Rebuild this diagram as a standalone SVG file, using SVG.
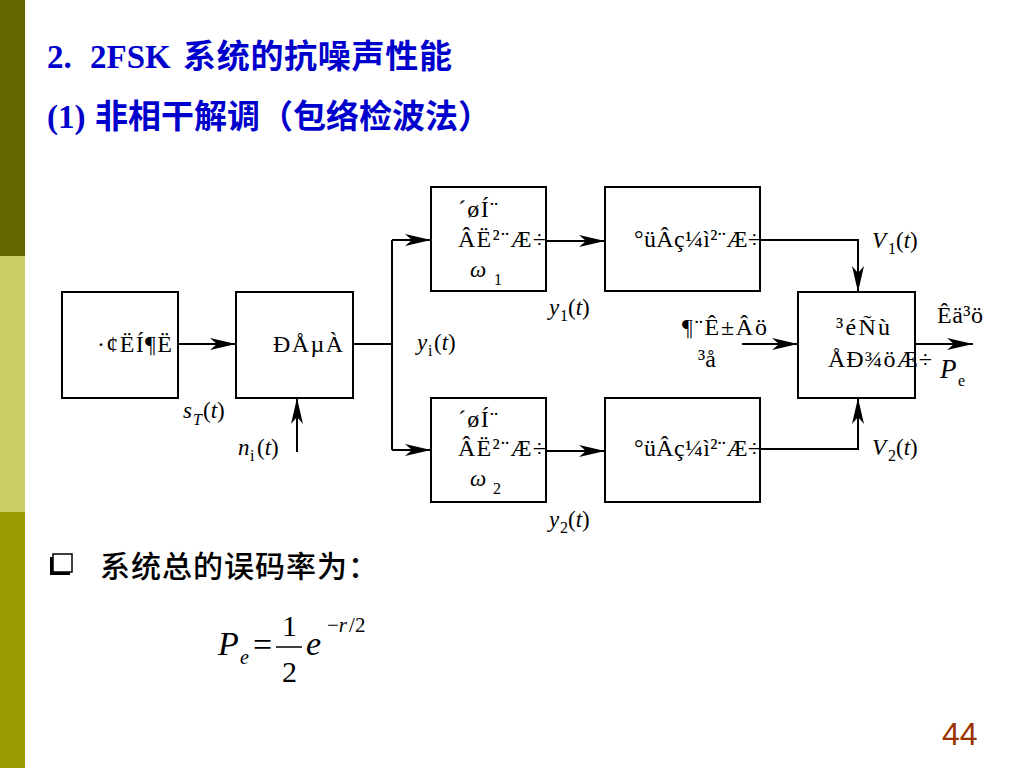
<svg xmlns="http://www.w3.org/2000/svg" width="1024" height="768" viewBox="0 0 1024 768">
<style>
.box{fill:#fff;stroke:#000;stroke-width:2}
.ln{fill:none;stroke:#000;stroke-width:2}
.arr{marker-end:url(#ah)}
.t{font-family:"Liberation Serif","Times New Roman",serif;font-size:24px;fill:#000}
.m{font-family:"Liberation Serif","Times New Roman",serif;font-size:23px;fill:#000}
.i{font-style:italic}
.s{font-size:16px;font-style:normal}
.ttl{font-family:"Liberation Serif","Noto Sans CJK SC",serif;font-size:33px;fill:#0000CC;font-weight:bold}
.cjk{font-family:"Noto Sans CJK SC","Noto Sans",sans-serif}
</style>
<defs>
<marker id="ah" markerUnits="userSpaceOnUse" markerWidth="28" markerHeight="13" refX="26" refY="6.5" orient="auto">
<path d="M0,0.5 L26,6.5 L0,12.5 L7,6.5 Z" fill="#000"/>
</marker>
</defs>
<rect width="1024" height="768" fill="#fff"/>
<g id="sidebar">
<rect x="0" y="0" width="25" height="256" fill="#666600"/>
<rect x="0" y="256" width="25" height="256" fill="#CCCC66"/>
<rect x="0" y="512" width="25" height="256" fill="#999900"/>
</g>
<g id="title">
<text class="ttl" y="68"><tspan x="47">2.</tspan><tspan x="90">2FSK</tspan><tspan x="183" class="cjk" style="letter-spacing:0.7px">系统的抗噪声性能</tspan></text>
<text class="ttl" y="128"><tspan x="47">(1)</tspan><tspan x="95" class="cjk">非相干解调（包络检波法）</tspan></text>
</g>
<g id="connectors">
<path class="ln arr" d="M178,344 H236"/>
<path class="ln" d="M353,344 H392"/>
<path class="ln" d="M392,240 V450"/>
<path class="ln arr" d="M392,240 H431"/>
<path class="ln arr" d="M392,450 H431"/>
<path class="ln arr" d="M546,241 H605"/>
<path class="ln arr" d="M546,451 H605"/>
<path class="ln arr" d="M760,240 H858 V292"/>
<path class="ln arr" d="M760,449 H858 V398"/>
<path class="ln arr" d="M742,344 H798"/>
<path class="ln arr" d="M915,344 H973"/>
<path class="ln arr" d="M297,452 V398"/>
</g>
<g id="node-source">
<rect class="box" x="62" y="292" width="116" height="106"/>
<text class="t" x="97" y="352" textLength="75" lengthAdjust="spacing">·¢ËÍ¶Ë</text>
</g>
<g id="node-channel">
<rect class="box" x="236" y="292" width="117" height="106"/>
<text class="t" x="273" y="352" textLength="70" lengthAdjust="spacing">ÐÅµÀ</text>
</g>
<g id="node-bpf1">
<rect class="box" x="431" y="187" width="115" height="104"/>
<text class="t" x="458" y="217" textLength="40" lengthAdjust="spacing">´øÍ¨</text>
<text class="t" x="458" y="247" textLength="88" lengthAdjust="spacing">ÂË²¨Æ÷</text>
<text class="m" x="470" y="277"><tspan class="i">ω</tspan><tspan class="s" x="494" dy="8">1</tspan></text>
</g>
<g id="node-env1">
<rect class="box" x="605" y="187" width="155" height="104"/>
<text class="t" x="634" y="247" textLength="127" lengthAdjust="spacing">°üÂç¼ì²¨Æ÷</text>
</g>
<g id="node-bpf2">
<rect class="box" x="431" y="398" width="115" height="104"/>
<text class="t" x="458" y="427" textLength="40" lengthAdjust="spacing">´øÍ¨</text>
<text class="t" x="458" y="456" textLength="88" lengthAdjust="spacing">ÂË²¨Æ÷</text>
<text class="m" x="470" y="486"><tspan class="i">ω</tspan><tspan class="s" x="493" dy="8">2</tspan></text>
</g>
<g id="node-env2">
<rect class="box" x="605" y="398" width="155" height="104"/>
<text class="t" x="634" y="456" textLength="127" lengthAdjust="spacing">°üÂç¼ì²¨Æ÷</text>
</g>
<g id="node-decision">
<rect class="box" x="798" y="292" width="117" height="106"/>
<text class="t" x="836" y="335" textLength="54" lengthAdjust="spacing">³éÑù</text>
<text class="t" x="828" y="367" textLength="104" lengthAdjust="spacing">ÅÐ¾öÆ÷</text>
</g>
<g id="labels">
<text class="t" x="682" y="335" textLength="85" lengthAdjust="spacing">¶¨Ê±Âö</text>
<text class="t" x="698" y="367">³å</text>
<text class="t" x="937" y="323" textLength="46" lengthAdjust="spacing">Êä³ö</text>
<text class="m" x="940" y="378" style="font-size:27px"><tspan class="i">P</tspan><tspan class="s" x="958" dy="8">e</tspan></text>
<text class="m" x="872" y="248"><tspan class="i">V</tspan><tspan class="s" x="888" dy="6">1</tspan><tspan x="896" dy="-6">(</tspan><tspan class="i">t</tspan>)</text>
<text class="m" x="872" y="455"><tspan class="i">V</tspan><tspan class="s" x="888" dy="6">2</tspan><tspan x="896" dy="-6">(</tspan><tspan class="i">t</tspan>)</text>
<text class="m" x="549" y="315"><tspan class="i">y</tspan><tspan class="s" x="560" dy="6">1</tspan><tspan x="568" dy="-6">(</tspan><tspan class="i">t</tspan>)</text>
<text class="m" x="549" y="527"><tspan class="i">y</tspan><tspan class="s" x="560" dy="6">2</tspan><tspan x="568" dy="-6">(</tspan><tspan class="i">t</tspan>)</text>
<text class="m" x="417" y="350"><tspan class="i">y</tspan><tspan class="s" x="428" dy="6">i</tspan><tspan x="434" dy="-6">(</tspan><tspan class="i">t</tspan>)</text>
<text class="m" x="183" y="418"><tspan class="i">s</tspan><tspan class="s i" x="193" dy="7" style="font-style:italic">T</tspan><tspan x="203" dy="-7">(</tspan><tspan class="i">t</tspan>)</text>
<text class="m" x="238" y="455"><tspan class="i">n</tspan><tspan class="s" x="250" dy="6">i</tspan><tspan x="257" dy="-6">(</tspan><tspan class="i">t</tspan>)</text>
</g>
<g id="bullet">
<rect x="50" y="557" width="20" height="18" fill="#000"/>
<rect x="53" y="554" width="19" height="18" fill="#fff" stroke="#000" stroke-width="1.5"/>
<text class="cjk" x="100" y="577" font-size="30" font-weight="500" fill="#000" letter-spacing="1">系统总的误码率为：</text>
</g>
<g id="formula" font-family="'Liberation Serif','Times New Roman',serif" fill="#000">
<text x="218" y="655" font-size="34" font-style="italic">P</text>
<text x="240" y="664" font-size="20" font-style="italic">e</text>
<text x="253" y="656" font-size="34">=</text>
<text x="282" y="636" font-size="30">1</text>
<line x1="276" y1="647" x2="302" y2="647" stroke="#000" stroke-width="1.5"/>
<text x="282" y="682" font-size="30">2</text>
<text x="306" y="655" font-size="34" font-style="italic">e</text>
<text x="327" y="632" font-size="21">−<tspan font-style="italic">r</tspan><tspan dx="2">/</tspan>2</text>
</g>
<text x="942" y="745" font-family="'Liberation Sans',Arial,sans-serif" font-size="32" fill="#993300">44</text>
</svg>
